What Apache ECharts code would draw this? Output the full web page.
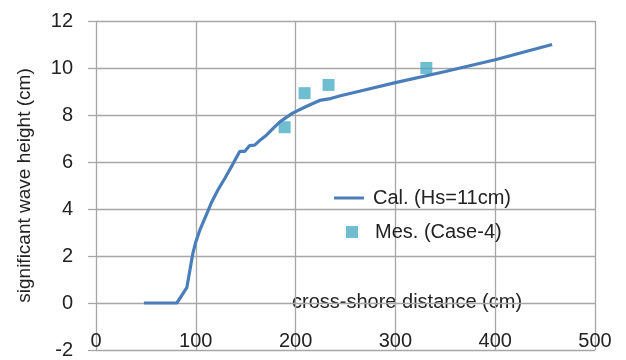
<!DOCTYPE html>
<html><head><meta charset="utf-8">
<script src="https://cdn.jsdelivr.net/npm/echarts@6/dist/echarts.min.js"></script>
<style>html,body{margin:0;padding:0;background:#fff}#c{width:626px;height:360px}</style>
</head><body><div id="c"></div>
<script>
const calX = [48,81,91,97,100,104,110,116,122,129,137,144,149,154,159,165,171,178,184,190,197,210,224,235,245,265,300,350,400,457];
const calY = [0,0,0.65,2.1,2.6,3.1,3.7,4.3,4.8,5.3,5.9,6.45,6.45,6.7,6.72,6.95,7.15,7.45,7.7,7.88,8.08,8.35,8.62,8.7,8.82,9.02,9.38,9.85,10.35,11.0];
const mesX = [189,209,233,331];
const mesY = [7.48,8.93,9.28,10.0];
const xTicks = {min:0,max:500,interval:100};
const yTicks = {min:-2,max:12,interval:2};
const calName = 'Cal. (Hs=11cm)';
const mesName = 'Mes. (Case-4)';
const xName = 'cross-shore distance (cm)';
const yName = 'significant wave height (cm)';

const font = 'Liberation Sans, Arial, sans-serif';
const fs = 20;
const chart = echarts.init(document.getElementById('c'));
chart.setOption({
  animation:false,
  textStyle:{fontFamily:font},
  grid:{left:96,right:31,top:21,bottom:9},
  xAxis:{type:'value',min:xTicks.min,max:xTicks.max,interval:xTicks.interval,
    axisLine:{show:false},axisTick:{show:false},
    axisLabel:{inside:true,margin:-1,fontSize:fs,color:'#222',fontFamily:font},
    splitLine:{show:true,lineStyle:{color:'#a6a6a6',width:1.3}}},
  yAxis:{type:'value',min:yTicks.min,max:yTicks.max,interval:yTicks.interval,
    name:yName,nameLocation:'middle',nameGap:62,nameRotate:90,
    nameTextStyle:{fontSize:fs-1,color:'#222',fontFamily:font},
    axisLine:{show:false},axisTick:{show:true,length:8,lineStyle:{color:'#a6a6a6',width:1.3}},
    axisLabel:{margin:23,fontSize:fs,color:'#222',fontFamily:font},
    splitLine:{show:true,lineStyle:{color:'#a6a6a6',width:1.3}}},
  legend:[
    {data:[{name:calName,icon:'path://M0,0L10,0L10,1L0,1Z'}],orient:'vertical',left:329,top:183,itemWidth:38,itemHeight:3,
     textStyle:{fontSize:fs,color:'#222',fontFamily:font},itemGap:5},
    {data:[{name:mesName,icon:'rect'}],orient:'vertical',left:341,top:217,itemWidth:12,itemHeight:12,
     textStyle:{fontSize:fs,color:'#222',fontFamily:font,padding:[0,0,0,12]}}
  ],
  graphic:[{type:'text',left:292,top:292,style:{text:xName,fontSize:fs,fill:'#222',fontFamily:font}}],
  series:[
    {name:calName,type:'line',data:calX.map((x,i)=>[x,calY[i]]),showSymbol:false,symbol:'none',
     lineStyle:{color:'#4a7ebb',width:3.2},itemStyle:{color:'#4a7ebb'}},
    {name:mesName,type:'scatter',data:mesX.map((x,i)=>[x,mesY[i]]),symbol:'rect',symbolSize:12,
     itemStyle:{color:'#4bacc6'}}
  ]
});
</script></body></html>
